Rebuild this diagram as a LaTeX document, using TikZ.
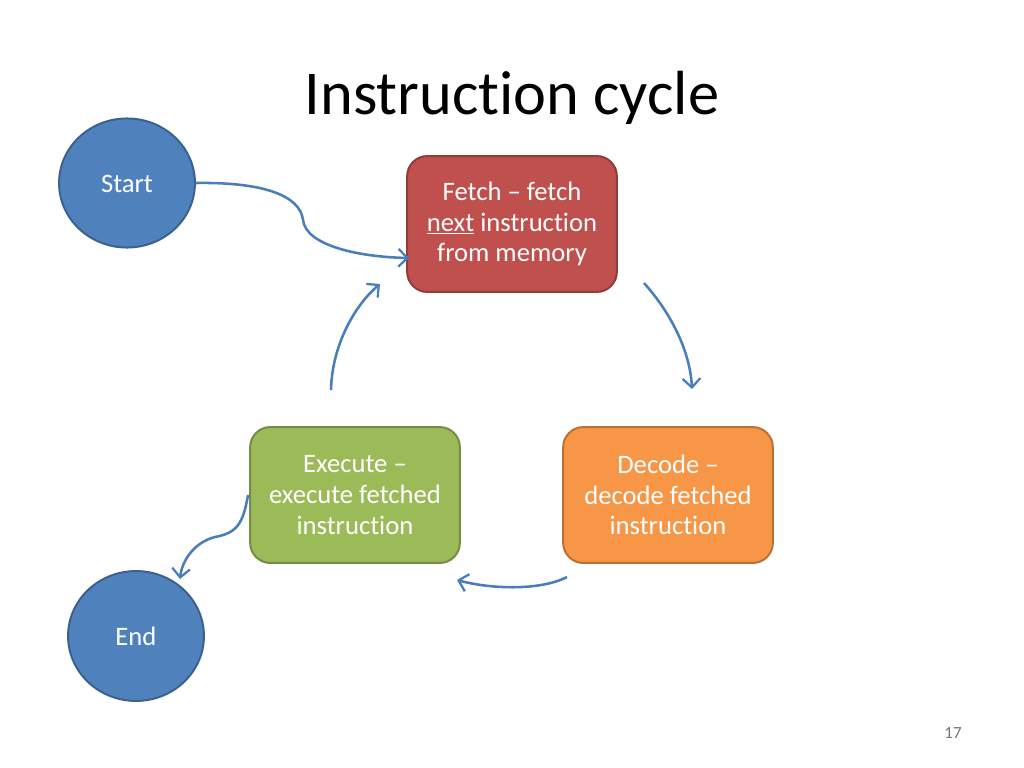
\documentclass[tikz,border=0pt]{standalone}
\usepackage{fontspec}
\setmainfont{Carlito}[Ligatures=NoCommon]
\usetikzlibrary{arrows.meta,positioning,shapes.geometric}

\definecolor{fetchred}{HTML}{C0504D}
\definecolor{decodeorange}{HTML}{F79646}
\definecolor{executegreen}{HTML}{9BBB59}
\definecolor{termblue}{HTML}{4F81BD}
\definecolor{arrowblue}{HTML}{4A7EBB}

\begin{document}
\begin{tikzpicture}[
  x=0.0248cm, y=-0.0248cm,
  base/.style = {
    draw=#1!75!black,
    fill=#1,
    line width=1.4pt,
    text=white,
    align=center,
    font=\fontsize{18.8}{21.6}\selectfont
  },
  stage/.style = {base=#1, rectangle, rounded corners=0.5cm,
    minimum width=5.2cm, minimum height=3.37cm},
  term/.style = {base=termblue, ellipse, minimum width=3.37cm, minimum height=3.2cm},
  arr/.style = {draw=arrowblue, line width=1.8pt,
    -{Straight Barb[length=2.2mm,width=4.4mm,line width=1.6pt]}},
  ]
  \useasboundingbox (0,0) rectangle (1024,768);
  % title and page number
  \node[font=\fontsize{44}{52}\selectfont] (title) at (512,98) {Instruction cycle};
  \node[font=\fontsize{12}{14}\selectfont, text=black!55] (pageno) at (953,733) {17};
  % start / end
  \node[term] (start) at (127,183) {};
  \node[text=white, font=\fontsize{18.8}{21.6}\selectfont] (startL) at (127,184) {Start};
  \node[term, minimum height=3.22cm] (end) at (136,636) {End};
  % stages
  \node[stage=fetchred] (fetch) at (512,224) {Fetch -- fetch\\\underline{next} instruction\\from memory};
  \node[stage=decodeorange] (decode) at (668,495) {Decode --\\decode fetched\\instruction};
  \node[stage=executegreen] (execute) at (355,495) {Execute --\\execute fetched\\instruction};
  % free ends of the connectors
  \coordinate (fetchIn) at (409,258);
  \coordinate (fetchOut) at (644,283);
  \coordinate (decodeIn) at (692,389);
  \coordinate (decodeOut) at (567,577);
  \coordinate (executeIn) at (457,580);
  \coordinate (executeOut) at (331,390);
  \coordinate (fetchBack) at (380,284);
  \coordinate (executeLeft) at (248,495);
  \coordinate (endIn) at (180,579);
  % connectors
  \draw[arr] (start.east) .. controls (262,182) and (300,195) .. (303,220)
    .. controls (306,246) and (360,257) .. (fetchIn);
  \draw[arr] (fetchOut) .. controls (670,312) and (690,350) .. (decodeIn);
  \draw[arr] (decodeOut) .. controls (540,591) and (490,589) .. (executeIn);
  \draw[arr] (executeOut) .. controls (332,345) and (355,305) .. (fetchBack);
  \draw[arr] (executeLeft) .. controls (243,525) and (236,533) .. (215,537)
    .. controls (195,542) and (182,560) .. (endIn);
\end{tikzpicture}
\end{document}
